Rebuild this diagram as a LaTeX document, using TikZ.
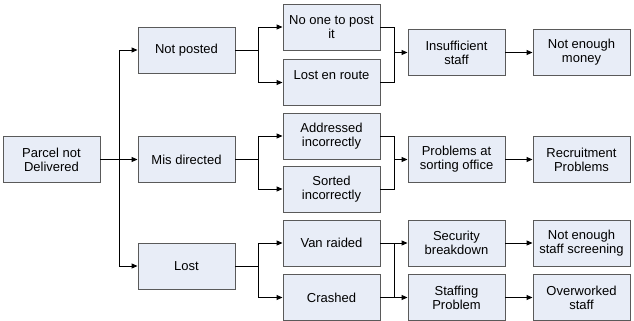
\documentclass[tikz,border=0pt]{standalone}
\usepackage{fontspec}
\setmainfont{Liberation Sans}
\usetikzlibrary{arrows.meta}
\definecolor{boxfill}{RGB}{232,237,247}
\definecolor{boxline}{RGB}{90,90,90}
\tikzset{
  cause/.style={draw=boxline, line width=0.9pt, fill=boxfill,
    minimum width=97pt, minimum height=46pt, inner sep=1pt,
    align=center, font=\fontsize{13}{14}\selectfont},
  link/.style={line width=0.9pt, black},
  arr/.style={link, -{Triangle[length=6pt,width=5pt]}}
}
\begin{document}
\begin{tikzpicture}[x=1pt,y=-1pt]
\useasboundingbox (0,0) rectangle (634,321);
% root and first level
\node[cause] (root) at (51.5,159.5) {Parcel not\\Delivered};
\node[cause] (np) at (186.5,50) {Not posted};
\node[cause] (md) at (186.5,159.5) {Mis directed};
\node[cause] (lo) at (186.5,266) {Lost};
% second level
\node[cause] (noone) at (331.5,27) {No one to post\\it};
\node[cause] (enroute) at (331.5,82.5) {Lost en route\\\mbox{}};
\node[cause] (addr) at (331.5,136) {Addressed\\incorrectly};
\node[cause] (sorted) at (331.5,189) {Sorted\\incorrectly};
\node[cause] (van) at (331.5,243) {Van raided};
\node[cause] (crash) at (331.5,297.5) {Crashed};
% third level
\node[cause] (insuff) at (456.5,52.5) {Insufficient\\staff};
\node[cause] (sorting) at (456.5,159.5) {Problems at\\sorting office};
\node[cause] (sec) at (456.5,243) {Security\\breakdown};
\node[cause] (staffing) at (456.5,297.5) {Staffing\\Problem};
% fourth level
\node[cause] (money) at (581.5,52.5) {Not enough\\money};
\node[cause] (recruit) at (581.5,159.5) {Recruitment\\Problems};
\node[cause] (screen) at (581.5,243) {Not enough\\staff screening};
\node[cause] (overwork) at (581.5,297.5) {Overworked\\staff};
% junction points
\coordinate (j0) at (119,159.5);
\coordinate (j1) at (258,50);
\coordinate (j2) at (258,159.5);
\coordinate (j3) at (258,266);
\coordinate (k1) at (394,52.5);
\coordinate (k2) at (394,159.5);
\coordinate (k3) at (394,243);
\coordinate (k4) at (394,297.5);
% root to first level
\draw[link] (root.east) -- (j0);
\draw[arr] (j0) |- (np.west);
\draw[arr] (j0) -- (md.west);
\draw[arr] (j0) |- (lo.west);
% first to second level
\draw[link] (np.east) -- (j1);
\draw[arr] (j1) |- (noone.west);
\draw[arr] (j1) |- (enroute.west);
\draw[link] (md.east) -- (j2);
\draw[arr] (j2) |- (addr.west);
\draw[arr] (j2) |- (sorted.west);
\draw[link] (lo.east) -- (j3);
\draw[arr] (j3) |- (van.west);
\draw[arr] (j3) |- (crash.west);
% second to third level
\draw[link] (noone.east) -| (k1);
\draw[link] (enroute.east) -| (k1);
\draw[arr] (k1) -- (insuff.west);
\draw[link] (addr.east) -| (k2);
\draw[link] (sorted.east) -| (k2);
\draw[arr] (k2) -- (sorting.west);
\draw[arr] (van.east) -- (sec.west);
\draw[arr] (crash.east) -- (staffing.west);
\draw[link] (k3) -- (k4);
% third to fourth level
\draw[arr] (insuff) -- (money);
\draw[arr] (sorting) -- (recruit);
\draw[arr] (sec) -- (screen);
\draw[arr] (staffing) -- (overwork);
\end{tikzpicture}
\end{document}
